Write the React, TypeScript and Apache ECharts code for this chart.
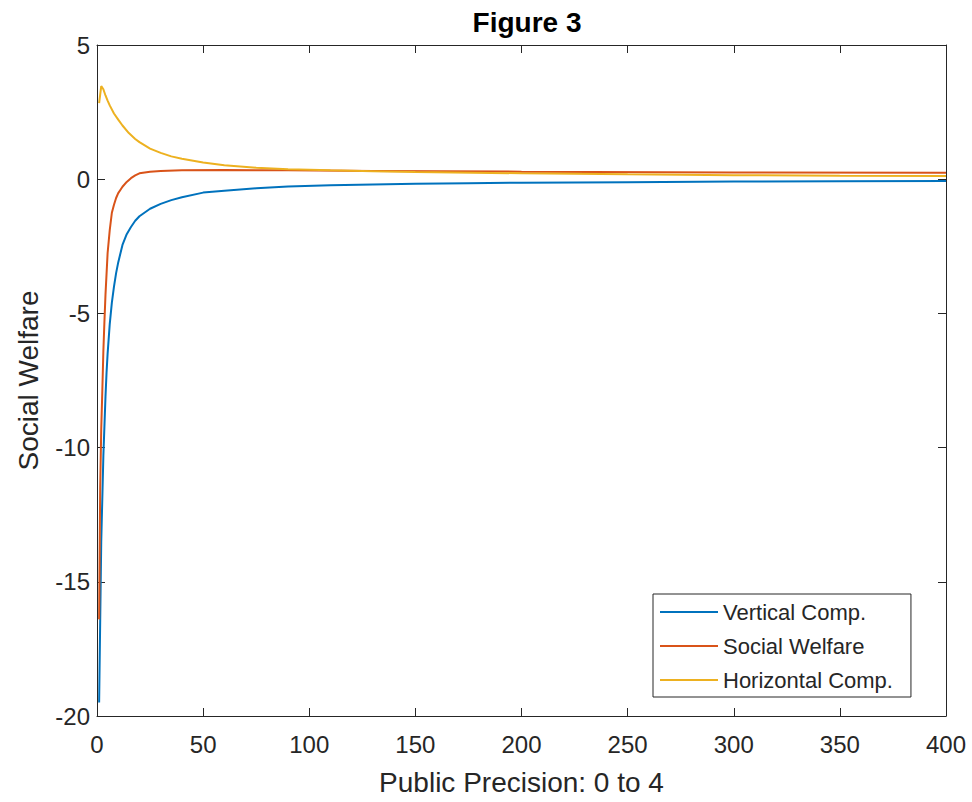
import React, { useEffect, useRef } from "react";
import * as echarts from "echarts";

const verticalX = [1, 2, 3, 3.5, 4, 4.5, 5, 6, 7, 8, 9, 10, 12, 14, 16, 18, 20, 25, 30, 35, 40, 50, 60, 75, 90, 110, 130, 150, 175, 200, 250, 300, 350, 400];
const verticalY = [-19.5, -13.5, -10.3, -9.2, -8.1, -7.2, -6.5, -5.4, -4.6, -4.0, -3.5, -3.1, -2.45, -2.05, -1.78, -1.55, -1.38, -1.1, -0.92, -0.78, -0.67, -0.5, -0.43, -0.34, -0.27, -0.23, -0.2, -0.17, -0.15, -0.13, -0.11, -0.09, -0.08, -0.07];

const welfareX = [1, 1.5, 2, 2.5, 3, 3.5, 4, 5, 6, 7, 8, 9, 10, 11, 12, 14, 16, 18, 20, 25, 30, 40, 60, 90, 130, 200, 300, 400];
const welfareY = [-16.4, -11.5, -9.3, -7.9, -6.4, -5.3, -4.3, -2.75, -1.9, -1.25, -0.95, -0.7, -0.52, -0.4, -0.28, -0.1, 0.04, 0.14, 0.22, 0.28, 0.31, 0.33, 0.34, 0.33, 0.31, 0.28, 0.25, 0.24];

const horizontalX = [1, 2, 3, 4, 5, 6, 8, 10, 12, 15, 18, 20, 25, 30, 35, 40, 50, 60, 75, 90, 110, 130, 150, 200, 250, 300, 350, 400];
const horizontalY = [2.83, 3.47, 3.35, 3.12, 2.93, 2.75, 2.45, 2.22, 2.0, 1.72, 1.5, 1.38, 1.14, 0.98, 0.85, 0.76, 0.62, 0.52, 0.43, 0.37, 0.33, 0.3, 0.27, 0.22, 0.18, 0.15, 0.13, 0.12];

const seriesNames = ["Vertical Comp.", "Social Welfare", "Horizontal Comp."];
const seriesColors = ["#0072BD", "#D95319", "#EDB120"];

const FONT = "'Liberation Sans', Arial, Helvetica, sans-serif";
const TEXT = "#262626";

function pairs(xs: number[], ys: number[]) {
  return xs.map((x, i) => [x, ys[i]]);
}

export default function App() {
  const ref = useRef<HTMLDivElement>(null);
  useEffect(() => {
    if (!ref.current) return;
    const chart = echarts.init(ref.current, null, { renderer: "svg" });
    const axisLine = { show: true, onZero: false, lineStyle: { color: TEXT, width: 1 } };
    const tick = { show: true, inside: true, length: 8, lineStyle: { color: TEXT, width: 1 } };
    const datasets = [pairs(verticalX, verticalY), pairs(welfareX, welfareY), pairs(horizontalX, horizontalY)];
    chart.setOption({
      animation: false,
      backgroundColor: "#ffffff",
      title: {
        text: "Figure 3",
        left: 522,
        textAlign: "center",
        top: 3,
        textStyle: { fontFamily: FONT, fontSize: 28, fontWeight: "bold", color: "#000" },
      },
      grid: { left: 97, right: 26, top: 45, bottom: 86, containLabel: false },
      xAxis: [
        {
          type: "value",
          min: 0,
          max: 400,
          interval: 50,
          position: "bottom",
          name: "Public Precision: 0 to 4",
          nameLocation: "middle",
          nameGap: 52,
          nameTextStyle: { fontFamily: FONT, fontSize: 28, color: TEXT },
          axisLine,
          axisTick: tick,
          axisLabel: { fontFamily: FONT, fontSize: 24, color: TEXT, margin: 16 },
          splitLine: { show: false },
        },
        {
          type: "value",
          min: 0,
          max: 400,
          interval: 50,
          position: "top",
          axisLine,
          axisTick: tick,
          axisLabel: { show: false },
          splitLine: { show: false },
        },
      ],
      yAxis: [
        {
          type: "value",
          min: -20,
          max: 5,
          interval: 5,
          position: "left",
          name: "Social Welfare",
          nameLocation: "middle",
          nameGap: 55,
          nameTextStyle: { fontFamily: FONT, fontSize: 28, color: TEXT },
          axisLine,
          axisTick: tick,
          axisLabel: { fontFamily: FONT, fontSize: 24, color: TEXT, margin: 7 },
          splitLine: { show: false },
        },
        {
          type: "value",
          min: -20,
          max: 5,
          interval: 5,
          position: "right",
          axisLine,
          axisTick: tick,
          axisLabel: { show: false },
          splitLine: { show: false },
        },
      ],
      legend: {
        orient: "vertical",
        left: 653,
        top: 594,
        padding: [6, 18, 5, 7],
        icon: "rect",
        itemWidth: 58,
        itemHeight: 2,
        itemGap: 10,
        itemTextGap: 10,
        borderColor: TEXT,
        borderWidth: 1,
        borderRadius: 0,
        backgroundColor: "#ffffff",
        textStyle: { fontFamily: FONT, fontSize: 22, lineHeight: 24, color: TEXT },
        data: seriesNames,
      },
      series: seriesNames.map((name, i) => ({
        name,
        type: "line",
        xAxisIndex: 0,
        yAxisIndex: 0,
        data: datasets[i],
        symbol: "none",
        smooth: false,
        clip: true,
        lineStyle: { color: seriesColors[i], width: 2 },
        itemStyle: { color: seriesColors[i] },
      })),
    });
    return () => chart.dispose();
  }, []);
  return (
    <div
      ref={ref}
      style={{ position: "fixed", left: 0, top: 0, width: 972, height: 802, background: "#fff" }}
    />
  );
}
